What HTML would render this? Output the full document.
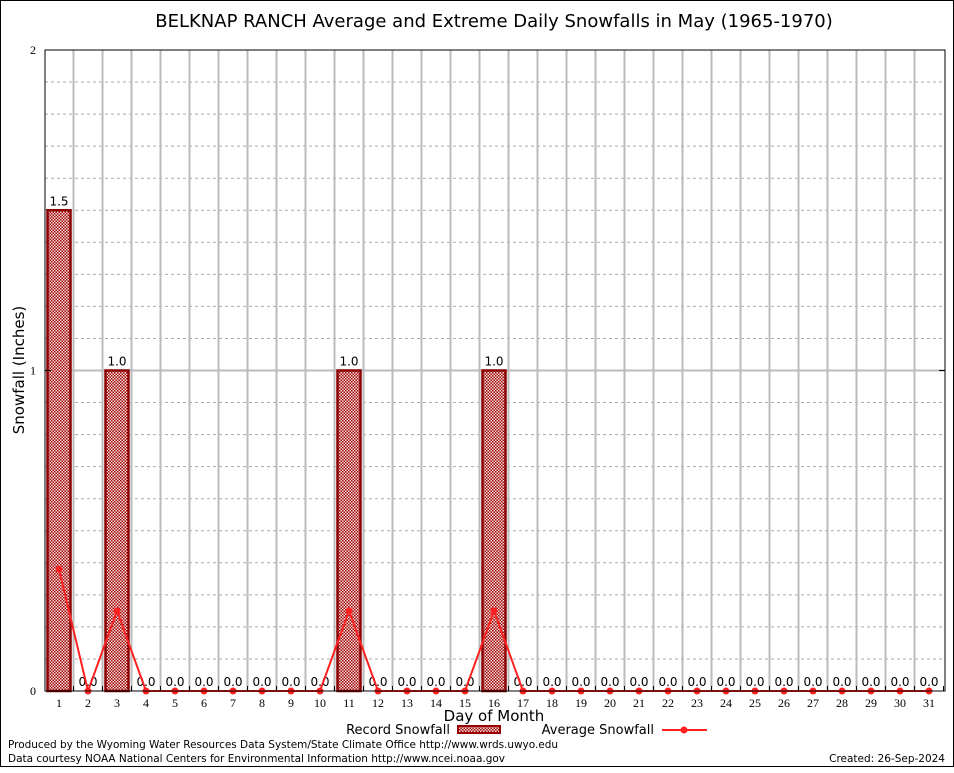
<!DOCTYPE html>
<html><head><meta charset="utf-8"><style>
body{margin:0;background:#fff;width:954px;height:768px;overflow:hidden}
svg text{font-family:"DejaVu Sans","Liberation Sans",sans-serif}
.tk{font-family:"Liberation Serif",serif;font-size:12px}
</style></head><body>
<svg id="c" width="954" height="768" xmlns="http://www.w3.org/2000/svg">
<rect x="0.5" y="0.5" width="953" height="766" fill="#fff" stroke="#000"/>
<text x="494" y="27" font-size="18" text-anchor="middle">BELKNAP RANCH Average and Extreme Daily Snowfalls in May (1965-1970)</text>
<g id="grid"></g><g id="bars"></g><g id="line"></g><g id="axes"></g>
<text transform="translate(24,370) rotate(-90)" font-size="15" text-anchor="middle">Snowfall (Inches)</text>
<text x="494" y="721" font-size="15" text-anchor="middle">Day of Month</text>
<g><text x="450" y="734" font-size="13" text-anchor="end">Record Snowfall</text>
<rect x="458" y="726" width="42" height="7" fill="url(#hatch)" stroke="#990000" stroke-width="2"/></g>
<g><text x="654" y="734" font-size="13" text-anchor="end">Average Snowfall</text>
<line x1="662" y1="730" x2="707" y2="730" stroke="#ff2020" stroke-width="2"/><circle cx="684" cy="730" r="3.5" fill="#ff2020"/></g>
<text x="8" y="748" font-size="10.5" textLength="550">Produced by the Wyoming Water Resources Data System/State Climate Office http://www.wrds.uwyo.edu</text>
<text x="8" y="762" font-size="10.5" textLength="497">Data courtesy NOAA National Centers for Environmental Information http://www.ncei.noaa.gov</text>
<text x="945" y="762" font-size="10.5" text-anchor="end">Created: 26-Sep-2024</text>
<defs><pattern id="hatch" width="3" height="3" patternUnits="userSpaceOnUse"><rect width="3" height="3" fill="#f4e0e0"/><rect width="1.5" height="1.5" fill="#a00000"/><rect x="1.5" y="1.5" width="1.5" height="1.5" fill="#a00000"/></pattern></defs>
</svg>
<script>
const days=[1,2,3,4,5,6,7,8,9,10,11,12,13,14,15,16,17,18,19,20,21,22,23,24,25,26,27,28,29,30,31];
const recordSnow=[1.5,0,1.0,0,0,0,0,0,0,0,1.0,0,0,0,0,1.0,0,0,0,0,0,0,0,0,0,0,0,0,0,0,0];
const avgSnow=[0.38,0,0.25,0,0,0,0,0,0,0,0.25,0,0,0,0,0.25,0,0,0,0,0,0,0,0,0,0,0,0,0,0,0];
const yTicks=[0,1,2];
const L=45,R=945,T=50,B=691,NS="http://www.w3.org/2000/svg";
const x=d=>59+(d-1)*29, y=v=>B-(v/2)*(B-T);
function mk(p,t,a){const e=document.createElementNS(NS,t);for(const k in a)e.setAttribute(k,a[k]);document.getElementById(p).appendChild(e);return e;}
for(let i=1;i<20;i++){if(i==10)continue;const g=mk('grid','line',{x1:L,x2:R,y1:y(i/10),y2:y(i/10),stroke:'#aaa','stroke-dasharray':'3,3'});

}
const g1=mk('grid','line',{x1:L,x2:R,y1:y(1),y2:y(1),stroke:'#bbb','stroke-width':2});


days.forEach(d=>{if(d<31){const v=mk('grid','line',{x1:x(d)+14.5,x2:x(d)+14.5,y1:T,y2:B,stroke:'#bbb','stroke-width':2});

}});
days.forEach((d,i)=>{const v=recordSnow[i];
if(v>0){const b=mk('bars','rect',{x:x(d)-11.5,y:y(v),width:23,height:B-y(v),fill:'url(#hatch)',stroke:'#8b0000','stroke-width':2.5});

}
const t=mk('bars','text',{x:x(d),y:y(v)-5,'font-size':12,'text-anchor':'middle'});t.textContent=v.toFixed(1);


const xl=mk('axes','text',{x:x(d),y:707,class:'tk','text-anchor':'middle'});xl.textContent=d;


mk('axes','line',{x1:x(d)+14.5,x2:x(d)+14.5,y1:B,y2:B-5,stroke:'#000'});});
const pl=mk('line','polyline',{points:days.map((d,i)=>x(d)+','+y(avgSnow[i])).join(' '),fill:'none',stroke:'#ff2020','stroke-width':2});


days.forEach((d,i)=>{const p=mk('line','circle',{cx:x(d),cy:y(avgSnow[i]),r:3.5,fill:'#ff2020'});

});
const fr=mk('axes','rect',{x:L,y:T,width:R-L,height:B-T,fill:'none',stroke:'#000'});


yTicks.forEach(v=>{const t=mk('axes','text',{x:36,y:y(v)+4,class:'tk','text-anchor':'end','font-size':13});t.textContent=v;


mk('axes','line',{x1:L,x2:L+6,y1:y(v),y2:y(v),stroke:'#000'});mk('axes','line',{x1:R,x2:R-6,y1:y(v),y2:y(v),stroke:'#000'});});
</script>
</body></html>
